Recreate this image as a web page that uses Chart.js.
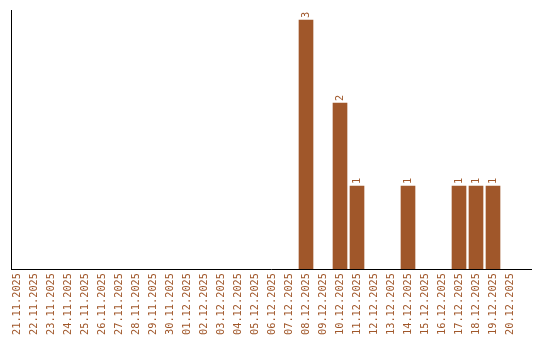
<!DOCTYPE html>
<html>
<head>
<meta charset="utf-8">
<script src="https://cdn.jsdelivr.net/npm/chart.js@4/dist/chart.umd.min.js"></script>
<style>
    body { margin: 0; background: #fff; }
    #wrap { width: 540px; height: 340px; }
</style>
</head>
<body>
<div id="wrap"><canvas id="chart" width="540" height="340"></canvas></div>
<script>
const days = [
    "21.11.2025", "22.11.2025", "23.11.2025", "24.11.2025", "25.11.2025",
    "26.11.2025", "27.11.2025", "28.11.2025", "29.11.2025", "30.11.2025",
    "01.12.2025", "02.12.2025", "03.12.2025", "04.12.2025", "05.12.2025",
    "06.12.2025", "07.12.2025", "08.12.2025", "09.12.2025", "10.12.2025",
    "11.12.2025", "12.12.2025", "13.12.2025", "14.12.2025", "15.12.2025",
    "16.12.2025", "17.12.2025", "18.12.2025", "19.12.2025", "20.12.2025"
];
const counts = [
    0, 0, 0, 0, 0, 0, 0, 0, 0, 0,
    0, 0, 0, 0, 0, 0, 0, 3, 0, 2,
    1, 0, 0, 1, 0, 0, 1, 1, 1, 0
];

const brown = "#A0572A";
const font = { family: "'DejaVu Sans Mono', monospace", size: 10.3 };

const barLabels = {
    id: "barLabels",
    afterDatasetsDraw(chart) {
        const ctx = chart.ctx;
        const meta = chart.getDatasetMeta(0);
        ctx.save();
        ctx.fillStyle = brown;
        ctx.font = "10.3px 'DejaVu Sans Mono', monospace";
        ctx.textAlign = "left";
        ctx.textBaseline = "middle";
        meta.data.forEach((bar, i) => {
            if (!counts[i]) return;
            ctx.save();
            ctx.translate(bar.x, bar.y - 2);
            ctx.rotate(-Math.PI / 2);
            ctx.fillText(String(counts[i]), 0, 0);
            ctx.restore();
        });
        ctx.restore();
    }
};

window.addEventListener("load", () => {
    const ctx = document.querySelector("#chart");

    new Chart(ctx, {
        type: "bar",
        data: {
            datasets: [{
                // empty days get no bar at all
                data: counts.map((c, i) => ({ x: i, y: c || null })),
                backgroundColor: brown,
                barThickness: 14
            }]
        },
        options: {
            responsive: false,
            animation: false,
            layout: {
                padding: { left: 11, right: 9, top: 10, bottom: 0 }
            },
            scales: {
                x: {
                    type: "linear",
                    offset: false,
                    min: -0.353,
                    max: 30.235,
                    grid: { display: false, drawTicks: false },
                    border: { display: true, color: "#000", width: 1 },
                    afterFit: (s) => {
                        s.height = 71;
                        s.paddingLeft = 0;
                        s.paddingRight = 0;
                    },
                    ticks: {
                        stepSize: 1,
                        autoSkip: false,
                        includeBounds: false,
                        minRotation: 90,
                        maxRotation: 90,
                        padding: 4,
                        color: brown,
                        font: font,
                        callback: (v) => Number.isInteger(v) ? (days[v] || "") : ""
                    }
                },
                y: {
                    min: 0,
                    max: 3.12,
                    grid: { display: false, drawTicks: false },
                    border: { display: true, color: "#000", width: 1 },
                    afterFit: (s) => {
                        s.width = 0;
                        s.paddingTop = 0;
                        s.paddingBottom = 0;
                    },
                    ticks: { display: false }
                }
            },
            plugins: {
                legend: { display: false },
                tooltip: { enabled: false }
            }
        },
        plugins: [barLabels]
    });
});
</script>
</body>
</html>
